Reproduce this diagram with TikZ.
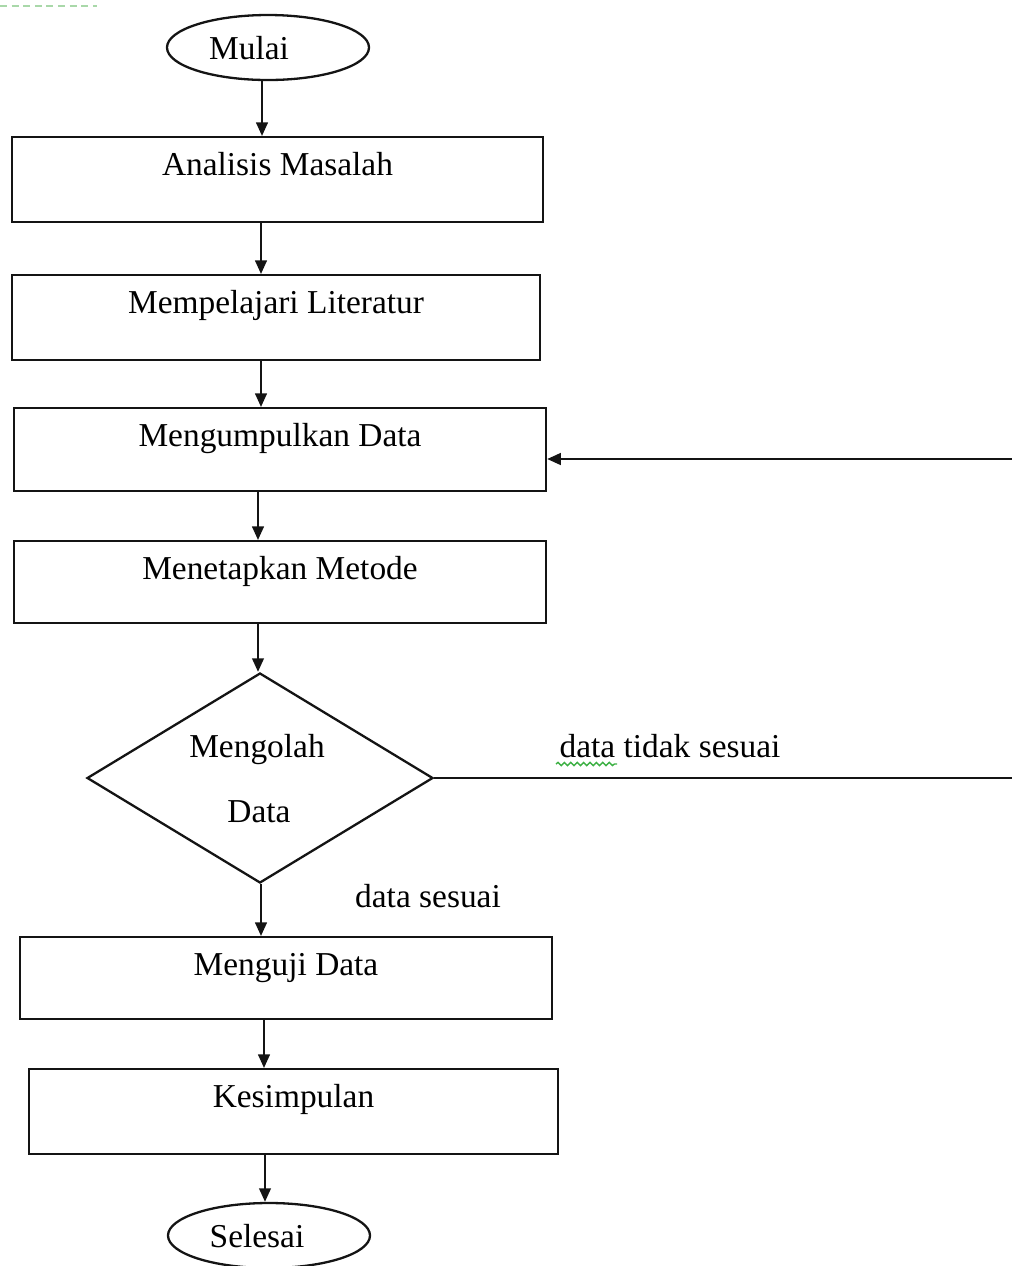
\documentclass[tikz,border=0pt]{standalone}
\usepackage{fontspec}
\setmainfont{Liberation Serif}
\usetikzlibrary{shapes.geometric,arrows.meta,decorations.pathmorphing}
\definecolor{linec}{HTML}{141414}
\definecolor{sqgreen}{HTML}{3CB043}
\definecolor{dashgreen}{HTML}{A9D8A9}
\tikzset{
  lbl/.style={font=\fontsize{16.7}{19}\selectfont, inner sep=0pt, anchor=base},
  pbox/.style n args={2}{draw=linec, line width=1.15pt, rectangle, anchor=north,
     inner xsep=0pt, inner ysep=0pt, minimum width=#1, text height=19pt, text depth=#2,
     font=\fontsize{16.7}{19}\selectfont},
  term/.style={draw=linec, line width=1.15pt, ellipse, minimum width=101pt, minimum height=32.5pt, inner sep=0pt},
  decis/.style={draw=linec, line width=1.15pt, diamond, minimum width=173pt, minimum height=105pt, inner sep=0pt},
  arr/.style={draw=linec, line width=1.15pt, -{Triangle[width=5.8pt,length=6.8pt]}},
  plain/.style={draw=linec, line width=1.15pt}
}
\begin{document}
\begin{tikzpicture}[x=0.5pt,y=-0.5pt]
\useasboundingbox (0,0) rectangle (1012,1266);

% top-left dashed mark
\coordinate (dl1) at (0,6);
\coordinate (dl2) at (97,6);
\draw[dashgreen, line width=1.2pt, dash pattern=on 3.5pt off 2.3pt] (dl1) -- (dl2);

% terminals
\node[term] (mulai) at (268,47.5) {};
\node[lbl] (mulaitxt) at (249,59) {Mulai};

% process boxes
\node[pbox={265.5pt}{23.5pt}] (b1) at (277.5,136) {Analisis Masalah};
\node[pbox={264pt}{23.5pt}] (b2) at (276,274) {Mempelajari Literatur};
\node[pbox={266pt}{22.5pt}] (b3) at (280,407) {Mengumpulkan Data};
\node[pbox={266pt}{22pt}] (b4) at (280,540) {Menetapkan Metode};

% decision
\node[decis] (dia) at (260,778) {};
\node[lbl] (diatxt1) at (257,757) {Mengolah};
\node[lbl] (diatxt2) at (259,822) {Data};

\node[pbox={266pt}{22pt}] (b5) at (286,936) {Menguji Data};
\node[pbox={264.5pt}{23.5pt}] (b6) at (293.5,1068) {Kesimpulan};

\node[term] (selesai) at (269,1235.5) {};
\node[lbl] (selesaitxt) at (257,1247) {Selesai};

% labels
\node[lbl] (ltidak) at (670,757) {data tidak sesuai};
\node[lbl] (lsesuai) at (428,907) {data sesuai};
\coordinate (sq1) at (556,764);
\coordinate (sq2) at (617,764);
\draw[sqgreen, line width=0.7pt, decorate, decoration={snake, amplitude=0.8pt, segment length=3.2pt}] (sq1) -- (sq2);

% connectors
\draw[arr] (mulai.south -| 262,0) -- (b1.north -| 262,0);
\draw[arr] (b1.south -| 261,0) -- (b2.north -| 261,0);
\draw[arr] (b2.south -| 261,0) -- (b3.north -| 261,0);
\draw[arr] (b3.south -| 258,0) -- (b4.north -| 258,0);
\draw[arr] (b4.south -| 258,0) -- (dia.north -| 258,0);
\draw[arr] (dia.south -| 261,0) -- (b5.north -| 261,0);
\draw[arr] (b5.south -| 264,0) -- (b6.north -| 264,0);
\draw[arr] (b6.south -| 265,0) -- (selesai.north -| 265,0);

% loop back (vertical part lies beyond the right edge, as in the reference)
\coordinate (loopy) at (0,459);
\draw[arr] (dia.east) -- (1040,778) -- (1040,459) -- (b3.east |- loopy);
\end{tikzpicture}
\end{document}
